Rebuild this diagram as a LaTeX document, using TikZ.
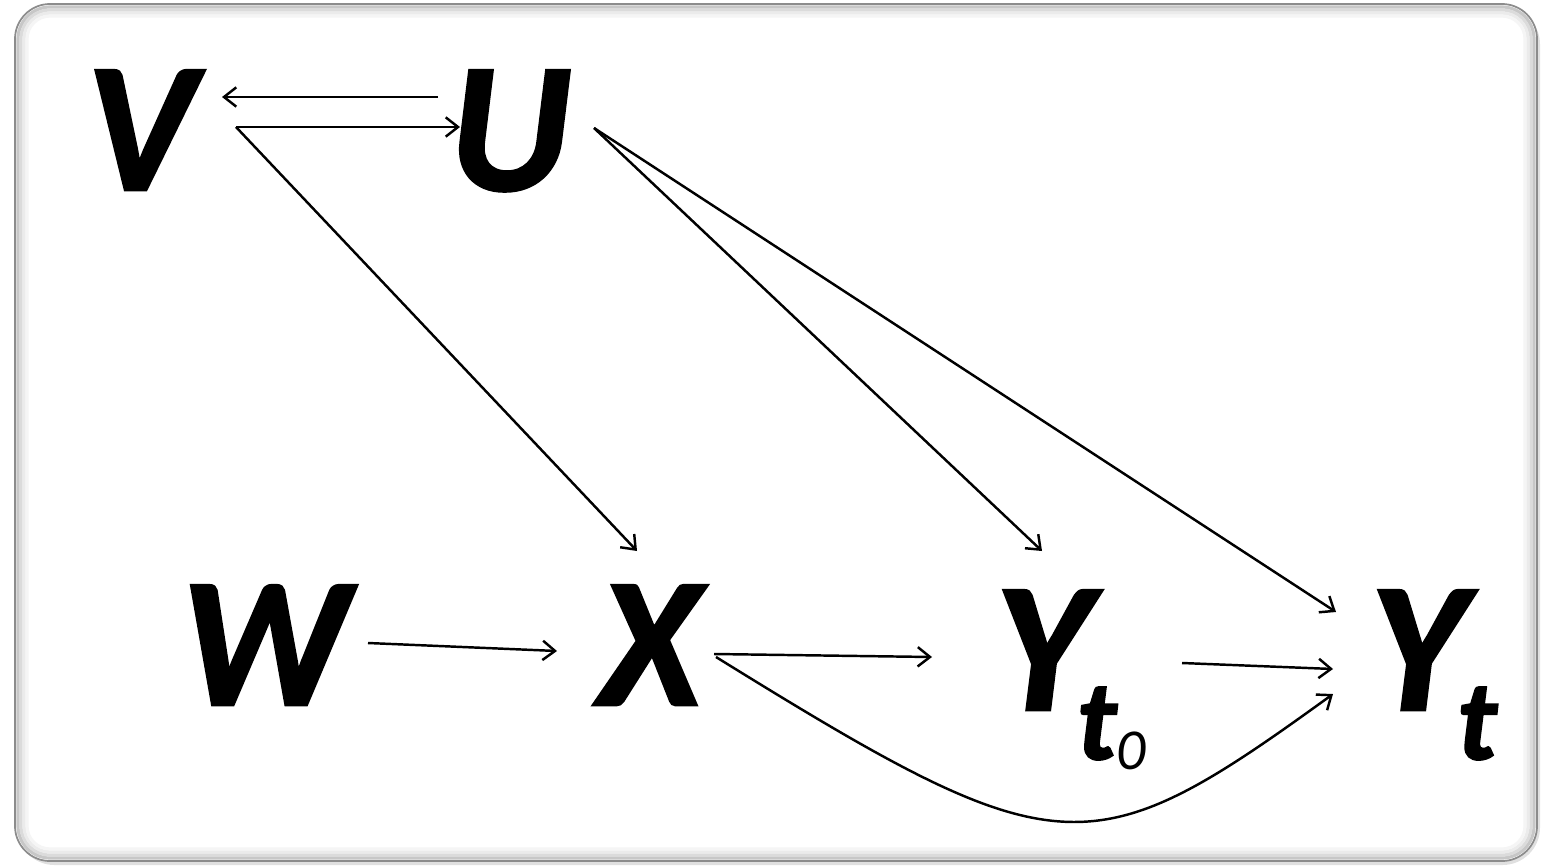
\documentclass[tikz,border=0pt]{standalone}
\usepackage{fontspec}
\setmainfont{Carlito}[BoldItalicFeatures={FakeBold=1.6}]
\usetikzlibrary{arrows.meta}

\begin{document}
\begin{tikzpicture}[x=0.02cm,y=-0.02cm,
  var/.style={inner sep=0pt, outer sep=0pt, anchor=base west, font=\fontsize{105}{110}\selectfont\bfseries\itshape},
  arr/.style={-{Straight Barb[length=7pt,width=11pt,line width=1.4pt]}, line width=1.4pt}]
\useasboundingbox (0,0) rectangle (1550,865);
% frame
\fill[black!12, rounded corners=0.75cm] (17,7) rectangle (1540,865);
\draw[black!45, line width=1pt, fill=white, rounded corners=0.7cm] (15,4) rectangle (1537,861);
\foreach \d/\c in {3/22,6/14,9/8,12/4}
  \draw[black!\c, line width=1.8pt, rounded corners=0.7cm-\d*0.02cm] (15+\d,4+\d) rectangle (1537-\d,861-\d);
% variables
\node[var] (V) at (86,190) {V};
\node[var] (U) at (450,190) {U};
\node[var] (W) at (181,705) {W};
\node[var] (X) at (599,705) {X};
\node[var] (Yo) at (995,710) {Y\hspace{-8pt}\raisebox{-28pt}{\fontsize{65}{65}\selectfont t\raisebox{-6pt}{\fontsize{33}{33}\selectfont\mdseries 0}}};
\node[var] (Yt) at (1370,710) {Y\hspace{-5pt}\raisebox{-28pt}{\fontsize{65}{65}\selectfont t}};
% arrows
\draw[arr] ([shift={(-12,-93)}]U.base west) -- ([shift={(136,-93)}]V.base west);
\draw[arr] ([shift={(150,-63)}]V.base west) -- ([shift={(10,-63)}]U.base west);
\draw[arr] ([shift={(150,-63)}]V.base west) -- ([shift={(38,-154)}]X.base west);
\draw[arr] ([shift={(144,-62)}]U.base west) -- ([shift={(47,-159)}]Yo.base west);
\draw[arr] ([shift={(144,-62)}]U.base west) -- ([shift={(-34,-98)}]Yt.base west);
\draw[arr] ([shift={(187,-62)}]W.base west) -- ([shift={(-42,-54)}]X.base west);
\draw[arr] ([shift={(115,-51)}]X.base west) -- ([shift={(-63,-53)}]Yo.base west);
\draw[arr] ([shift={(187,-47)}]Yo.base west) -- ([shift={(-37,-41)}]Yt.base west);
\draw[arr] ([shift={(117,-48)}]X.base west) .. controls (1060,870) and (1090,870) .. ([shift={(-37,-16)}]Yt.base west);
\end{tikzpicture}
\end{document}
